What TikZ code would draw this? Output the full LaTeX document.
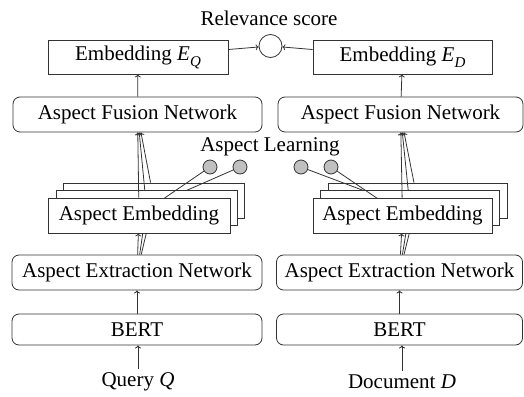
\documentclass[tikz,border=0pt]{standalone}
\usepackage{fontspec}
\setmainfont{Liberation Serif}
\usetikzlibrary{arrows.meta}
\pgfdeclarelayer{arrlayer}
\pgfdeclarelayer{bklayer}
\pgfdeclarelayer{lnalayer}
\pgfdeclarelayer{mdlayer}
\pgfdeclarelayer{lnblayer}
\pgfdeclarelayer{frlayer}
\pgfsetlayers{arrlayer,bklayer,lnalayer,mdlayer,lnblayer,frlayer,main}
\definecolor{linec}{HTML}{333333}
\definecolor{dotc}{HTML}{C0C0C0}
\newcommand{\isub}[2]{\textit{#1}\raisebox{-0.28em}{\fontsize{15}{15}\selectfont\textit{#2}}}
\begin{document}
\begin{tikzpicture}[x=1pt,y=-1pt,
  every node/.style={font=\fontsize{21}{24}\selectfont, inner sep=0pt, text=black},
  sqbox/.style={draw=linec, line width=0.8pt, fill=white, minimum height=34pt},
  embbox/.style={draw=linec, line width=0.8pt, fill=white, minimum height=35pt},
  rbox/.style={draw=linec, line width=0.8pt, fill=white, rounded corners=7pt, minimum height=35pt},
  conn/.style={draw=linec, line width=0.8pt},
  arrl/.style={conn, -{To[length=3pt,width=6pt]}},
  aspdot/.style={circle, draw=linec, fill=dotc, line width=0.8pt, minimum size=14pt},
]
\useasboundingbox (0,0) rectangle (524,396);

% top
\node (rel) at (269,18) {Relevance score};
\node[circle, draw=linec, fill=white, line width=0.8pt, minimum size=23pt] (score) at (270.5,46) {};
\node[sqbox, minimum width=180pt] (eq) at (138,57) {Embedding \isub{E}{Q}};
\node[sqbox, minimum width=179pt] (ed) at (402.5,57) {Embedding \isub{E}{D}};

% fusion
\node[rbox, minimum width=249pt] (fusl) at (137.5,114.5) {Aspect Fusion Network};
\node[rbox, minimum width=245pt] (fusr) at (400.5,114.5) {Aspect Fusion Network};

% aspect learning
\node (al) at (270,147) {Aspect Learning};
\node[aspdot] (d1) at (210,167) {};
\node[aspdot] (d2) at (240,167) {};
\node[aspdot] (d3) at (301,167) {};
\node[aspdot] (d4) at (331,167) {};

% aspect embedding stacks
\begin{pgfonlayer}{bklayer}
\node[embbox, minimum width=181pt] (ebbl) at (154,200.5) {};
\node[embbox, minimum width=179pt] (ebbr) at (417.5,200.5) {};
\end{pgfonlayer}
\begin{pgfonlayer}{mdlayer}
\node[embbox, minimum width=181pt] (ebml) at (146.5,208) {};
\node[embbox, minimum width=179pt] (ebmr) at (410,208) {};
\end{pgfonlayer}
\begin{pgfonlayer}{frlayer}
\node[embbox, minimum width=182pt] (ebfl) at (139,215.5) {Aspect Embedding};
\node[embbox, minimum width=179pt] (ebfr) at (402.5,215.5) {Aspect Embedding};
\end{pgfonlayer}

% extraction, bert, inputs
\node[rbox, minimum width=250pt] (exl) at (137,272.5) {Aspect Extraction Network};
\node[rbox, minimum width=246pt] (exr) at (399.5,272.5) {Aspect Extraction Network};
\node[rbox, minimum width=250pt, minimum height=31pt] (bl) at (137,329.5) {BERT};
\node[rbox, minimum width=246pt, minimum height=31pt] (br) at (399.5,329.5) {BERT};
\node (ql) at (138,382) {Query \textit{Q}};
\node (dr) at (402,382) {Document \textit{D}};

% connectors
\draw[arrl, shorten <=4pt] (ql.north) -- (ql.north |- bl.south);
\draw[arrl, shorten <=4pt] (dr.north) -- (dr.north |- br.south);
\draw[arrl] (bl) -- (exl);
\draw[arrl] (br) -- (exr);
\begin{pgfonlayer}{arrlayer}
\draw[arrl] (exl) -- (ebfl);
\draw[arrl] (exl) -- (ebml);
\draw[arrl] (exl) -- (ebbl);
\draw[arrl] (exr) -- (ebfr);
\draw[arrl] (exr) -- (ebmr);
\draw[arrl] (exr) -- (ebbr);
\end{pgfonlayer}
\begin{pgfonlayer}{lnalayer}
\draw[conn] (d2) -- (ebml.center);
\draw[conn] (d3) -- (ebmr.center);
\end{pgfonlayer}
\begin{pgfonlayer}{lnblayer}
\draw[conn] (d1) -- (ebfl.center);
\draw[conn] (d4) -- (ebfr.center);
\end{pgfonlayer}
\draw[arrl] (ebfl) -- (fusl);
\draw[arrl] (ebml) -- (fusl);
\draw[arrl] (ebbl) -- (fusl);
\draw[arrl] (ebfr) -- (fusr);
\draw[arrl] (ebmr) -- (fusr);
\draw[arrl] (ebbr) -- (fusr);
\draw[arrl] (fusl) -- (eq);
\draw[arrl] (fusr) -- (ed);
\draw[arrl] (eq) -- (score);
\draw[arrl] (ed) -- (score);
\end{tikzpicture}
\end{document}
